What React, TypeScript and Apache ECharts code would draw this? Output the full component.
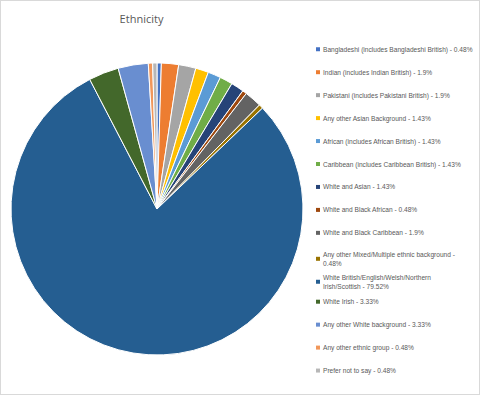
import React, { useEffect, useRef } from "react";
import * as echarts from "echarts";

const categories = [
  "Bangladeshi (includes Bangladeshi British)",
  "Indian (includes Indian British)",
  "Pakistani (includes Pakistani British)",
  "Any other Asian Background",
  "African (includes African British)",
  "Caribbean (includes Caribbean British)",
  "White and Asian",
  "White and Black African",
  "White and Black Caribbean",
  "Any other Mixed/Multiple ethnic background",
  "White British/English/Welsh/Northern Irish/Scottish",
  "White Irish",
  "Any other White background",
  "Any other ethnic group",
  "Prefer not to say",
];
const counts = [1, 4, 4, 3, 3, 3, 3, 1, 4, 1, 167, 7, 7, 1, 1];
const percentLabels = ["0.48", "1.9", "1.9", "1.43", "1.43", "1.43", "1.43", "0.48", "1.9", "0.48", "79.52", "3.33", "3.33", "0.48", "0.48"];
const colors = ["#4472C4", "#ED7D31", "#A5A5A5", "#FFC000", "#5B9BD5", "#70AD47", "#264478", "#9E480E", "#636363", "#997300", "#255E91", "#43682B", "#698ED0", "#F1975A", "#B7B7B7"];

function legendLabel(name: string): string {
  const pct = percentLabels[categories.indexOf(name)] + "%";
  if (name === "Any other Mixed/Multiple ethnic background") return `${name} -\n${pct}`;
  if (name.startsWith("White British/")) return name.replace("Northern ", "Northern\n") + ` - ${pct}`;
  return `${name} - ${pct}`;
}

export default function App() {
  const ref = useRef<HTMLDivElement>(null);
  useEffect(() => {
    if (!ref.current) return;
    const chart = echarts.init(ref.current, undefined, { renderer: "svg" });
    const font = "Liberation Sans, sans-serif";
    const LH = 9.5;
    const legends = categories.map((name, i) => {
      const twoLine = legendLabel(name).includes("\n");
      return {
        show: true,
        orient: "vertical",
        left: 315,
        top: 43.5 + i * 22.95 - (twoLine ? LH - 3 : 0),
        padding: 0,
        itemWidth: 4,
        itemHeight: 4,
        itemGap: 0,
        icon: "rect",
        itemStyle: { borderWidth: 0 },
        data: [name],
        formatter: legendLabel,
        textStyle: {
          color: "#595959",
          fontSize: 6.6,
          fontFamily: font,
          lineHeight: LH,
          padding: [twoLine ? LH : 0, 0, 0, -2],
        },
      };
    });
    chart.setOption({
      animation: false,
      color: colors,
      title: {
        text: "Ethnicity",
        left: 140.5,
        top: 12,
        padding: 0,
        textAlign: "center",
        textStyle: { color: "#595959", fontSize: 11, fontWeight: "normal", fontFamily: "Open Sans, sans-serif" },
      },
      legend: legends,
      series: [
        {
          type: "pie",
          center: [156, 208],
          radius: 146,
          startAngle: 90,
          clockwise: true,
          label: { show: false },
          labelLine: { show: false },
          itemStyle: { borderColor: "#ffffff", borderWidth: 1 },
          data: categories.map((name, i) => ({ name, value: counts[i] })),
        },
      ],
    });
    return () => chart.dispose();
  }, []);
  return (
    <div
      style={{
        position: "fixed",
        left: 0,
        top: 0,
        width: 480,
        height: 395,
        boxSizing: "border-box",
        border: "1px solid #D9D9D9",
        background: "#fff",
      }}
    >
      <div ref={ref} style={{ width: 478, height: 393 }} />
    </div>
  );
}
